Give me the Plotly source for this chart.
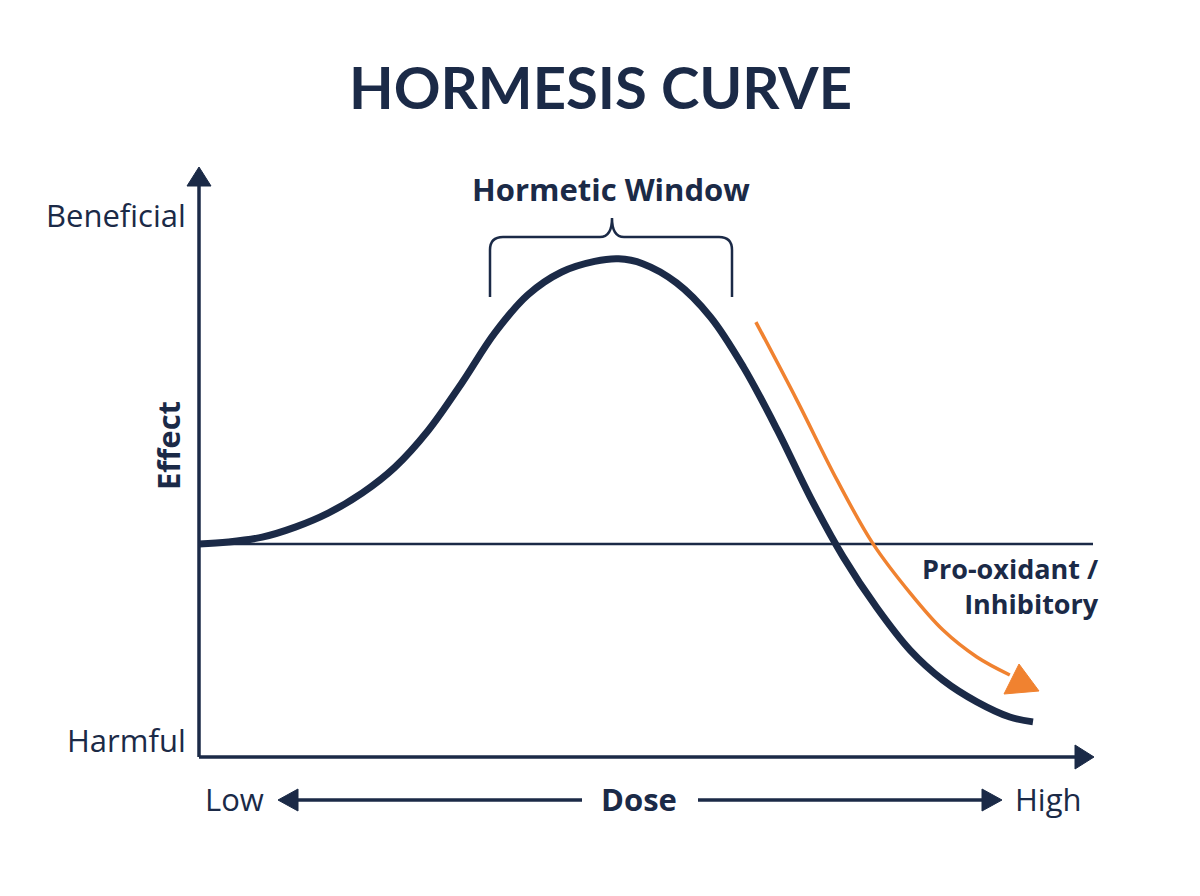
import plotly.graph_objects as go

# hormesis curve (dose 0-100, effect: baseline 0, peak ~100)
dose = [0, 3.3, 7.1, 10.8, 14.5, 18.3, 22.0, 25.7, 29.5, 33.2, 36.9, 40.7, 44.4, 47.1,
        49.8, 53.6, 57.4, 61.1, 64.9, 68.6, 72.3, 76.1, 79.8, 83.5, 87.3, 91.0, 93.6]
effect = [0, 0.7, 2.4, 5.9, 10.8, 17.8, 26.9, 39.6, 56.3, 73.8, 87.1, 95.1, 98.8, 99.7,
          98.0, 91.3, 79.4, 61.9, 39.9, 16.4, -4.5, -22.4, -37.1, -47.6, -55.2, -60.5, -62.2]

# orange "pro-oxidant" arrow path
arrow_dose = [62.5, 67.1, 71.6, 75.6, 79.8, 83.5, 87.3, 91.0]
arrow_effect = [77.6, 50.3, 22.4, 0.3, -17.1, -30.1, -39.5, -45.8]

NAVY = "#1b2a47"
ORANGE = "#f08230"
FONT = "Open Sans"
TITLE_FONT = "Lato"

# page pixel -> data helpers (page has an 8px body margin)
W, H, OFF = 1184, 880, 8
X0, XS = 199, 8.91
Y0, YS = 544, 2.86
def dx(px):
    return (px - X0) / XS
def dy(py):
    return (Y0 - py) / YS

fig = go.Figure()
fig.add_trace(go.Scatter(x=dose, y=effect, mode="lines",
                         line=dict(color=NAVY, width=7, shape="spline", smoothing=1),
                         hoverinfo="skip", showlegend=False))
fig.add_trace(go.Scatter(x=arrow_dose, y=arrow_effect, mode="lines",
                         line=dict(color=ORANGE, width=3.5, shape="spline", smoothing=1),
                         hoverinfo="skip", showlegend=False))

def tri(p1, p2, p3, color):
    path = "M {} {} L {} {} L {} {} Z".format(dx(p1[0]), dy(p1[1]), dx(p2[0]), dy(p2[1]),
                                             dx(p3[0]), dy(p3[1]))
    fig.add_shape(type="path", path=path, fillcolor=color, line=dict(color=color, width=1),
                  xref="x", yref="y", layer="above")

def seg(x1, y1, x2, y2, width, color=NAVY):
    fig.add_shape(type="line", x0=dx(x1), y0=dy(y1), x1=dx(x2), y1=dy(y2),
                  line=dict(color=color, width=width), xref="x", yref="y", layer="below")

# axes
seg(199, 757, 199, 180, 3.5)
tri((199, 167), (187, 186), (211, 186), NAVY)
seg(199, 757, 1080, 757, 3.5)
tri((1094, 757), (1075, 745), (1075, 769), NAVY)
# baseline
seg(199, 544, 1093, 544, 2.5)
# orange arrow head
tri((1039, 691), (1019, 664), (1004, 694), ORANGE)

# dose arrows under the axis
seg(295, 800, 582, 800, 3.5)
tri((278, 800), (298, 789), (298, 811), NAVY)
seg(698, 800, 985, 800, 3.5)
tri((1002, 800), (982, 789), (982, 811), NAVY)

# hormetic window bracket
bracket = ("M {a} {b} L {a} {c} Q {a} {d} {e} {d} L {f} {d} Q {g} {d} {g} {h} "
           "Q {g} {d} {i} {d} L {j} {d} Q {k} {d} {k} {c} L {k} {b}").format(
    a=dx(490), b=dy(297), c=dy(250), d=dy(237), e=dx(503), f=dx(600), g=dx(612),
    h=dy(218), i=dx(624), j=dx(719), k=dx(732))
fig.add_shape(type="path", path=bracket, line=dict(color=NAVY, width=2.5), xref="x", yref="y")

def label(text, px, py, size, anchor="center", bold=False, angle=0, family=FONT):
    fig.add_annotation(x=(px - OFF) / W, y=1 - (py - OFF) / H, xref="paper", yref="paper",
                       text="<b>%s</b>" % text if bold else text, showarrow=False,
                       xanchor=anchor, yanchor="middle", textangle=angle, align="right",
                       font=dict(family=family, size=size, color=NAVY))

label("HORMESIS CURVE", 600, 87, 58, bold=True, family=TITLE_FONT)
label("Hormetic Window", 611, 189, 31, bold=True)
label("Beneficial", 188, 215, 31, anchor="right")
label("Harmful", 188, 740, 31, anchor="right")
label("Effect", 168, 446, 31, bold=True, angle=-90)
label("Pro-oxidant /<br>Inhibitory", 1101, 586, 27, anchor="right", bold=True)
label("Low", 234, 799, 31)
label("Dose", 639, 799, 31, bold=True)
label("High", 1048, 799, 31)

fig.update_layout(
    width=W, height=H,
    margin=dict(l=0, r=0, t=0, b=0),
    paper_bgcolor="white", plot_bgcolor="white",
    xaxis=dict(range=[dx(OFF), dx(OFF + W)], visible=False, fixedrange=True),
    yaxis=dict(range=[dy(OFF + H), dy(OFF)], visible=False, fixedrange=True),
    showlegend=False,
)

fig.write_html("out.html")
